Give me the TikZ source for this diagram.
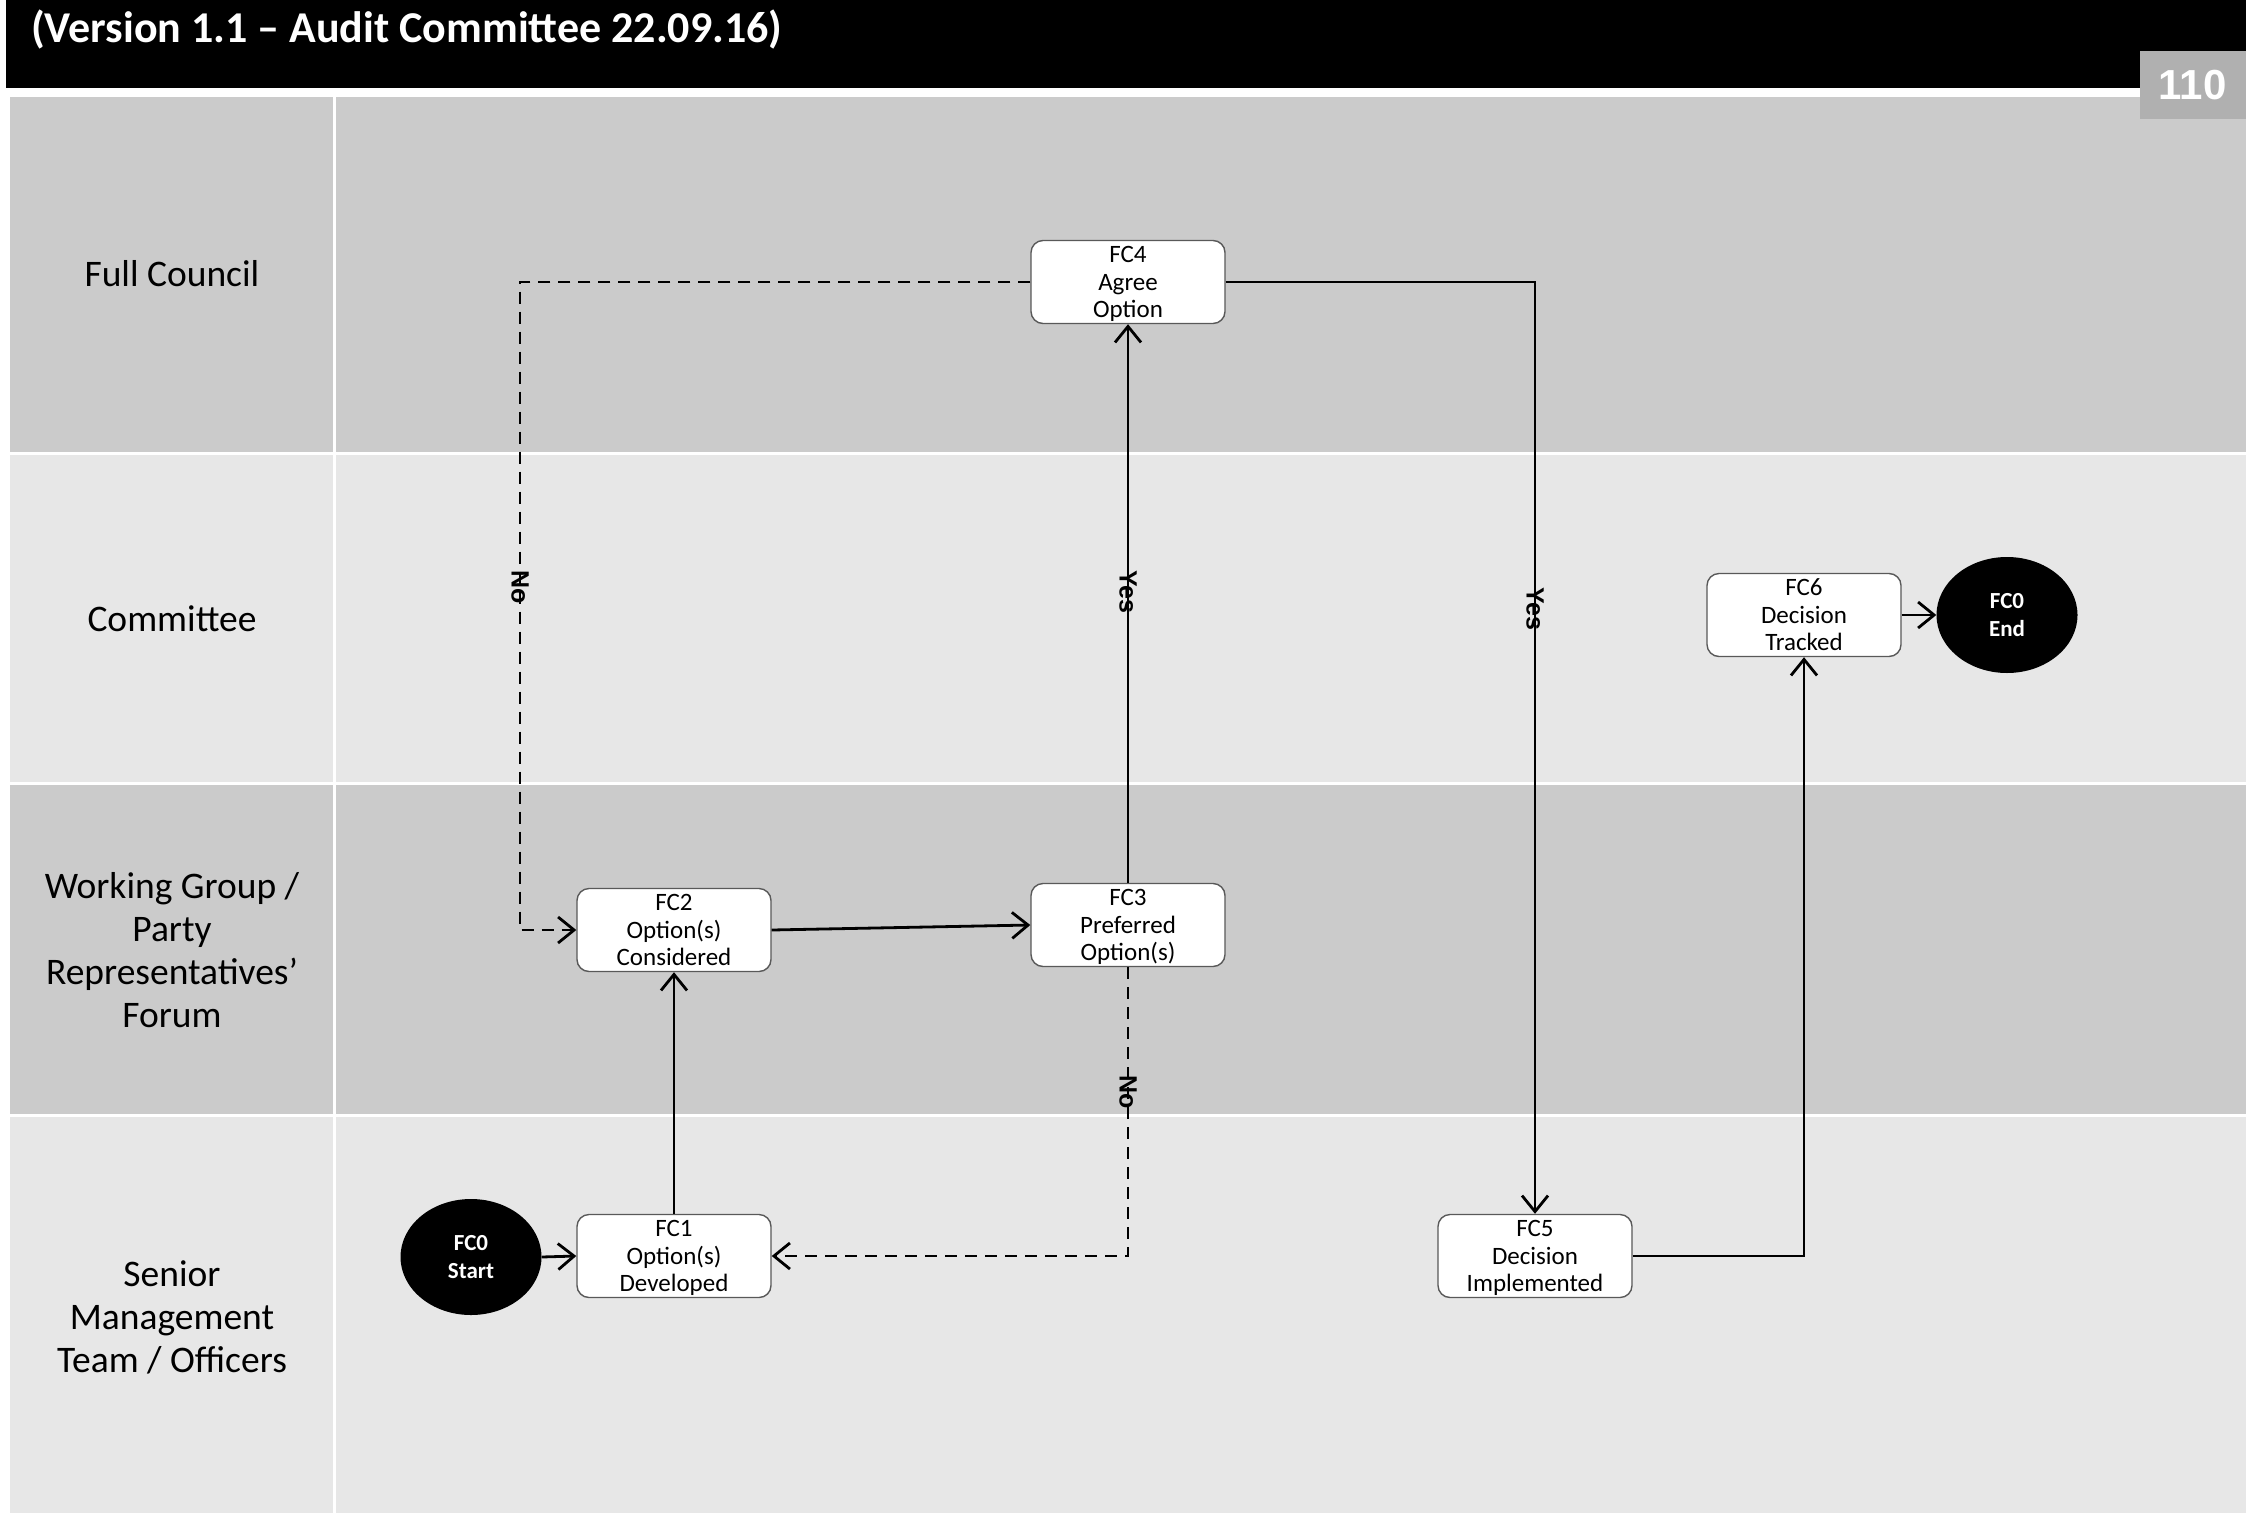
\documentclass[tikz,border=0pt]{standalone}
\usepackage{fontspec}
\setmainfont{Carlito}
\newfontfamily\arialf{Liberation Sans}
\usetikzlibrary{shapes.geometric,arrows.meta}
\definecolor{laneA}{HTML}{CBCBCB}
\definecolor{laneB}{HTML}{E7E7E7}
\definecolor{pagebox}{HTML}{B0B0B0}
\begin{document}
\begin{tikzpicture}[x=1pt,y=-1pt,
  procbox/.style={draw=black!65,line width=1.4pt,fill=white,rounded corners=12pt,minimum width=194pt,minimum height=83pt,inner sep=0pt,align=center,text depth=0pt,font=\fontsize{25}{27.5}\selectfont},
  termnode/.style={ellipse,fill=black,minimum width=141pt,minimum height=116pt,inner sep=0pt,align=center,text=white,font=\fontsize{23}{28}\selectfont\bfseries},
  flow/.style={line width=2.8pt,-{Straight Barb[length=16pt,width=26pt,line width=2.8pt]}},
  noflow/.style={flow,dash pattern=on 12pt off 8pt},
  lanelabel/.style={align=center,font=\fontsize{37.5}{43}\selectfont},
  edgelabel/.style={rotate=-90,font=\arialf\bfseries\fontsize{25}{28}\selectfont,inner sep=0pt}
]
\useasboundingbox (0,0) rectangle (2246,1518);
\fill[white] (0,0) rectangle (2246,1518);
\fill[black] (6,0) rectangle (2246,88);
% lanes
\fill[laneA] (10,97) rectangle (333,452);
\fill[laneA] (336,97) rectangle (2246,452);
\fill[laneB] (10,455) rectangle (333,782);
\fill[laneB] (336,455) rectangle (2246,782);
\fill[laneA] (10,785) rectangle (333,1114);
\fill[laneA] (336,785) rectangle (2246,1114);
\fill[laneB] (10,1117) rectangle (333,1513);
\fill[laneB] (336,1117) rectangle (2246,1513);
% header
\node[anchor=west,text=white,font=\fontsize{44}{48}\selectfont\bfseries,inner sep=0pt] (title) at (31,30) {(Version 1.1 – Audit Committee 22.09.16)};
\node[fill=pagebox,text=white,minimum width=106pt,minimum height=68pt,inner sep=0pt,anchor=north east,font=\arialf\bfseries\fontsize{42}{44}\selectfont] (pgnum) at (2246,51) {110};
% lane labels
\node[lanelabel] (lfc) at (172,274) {Full Council};
\node[lanelabel] (lcom) at (172,619) {Committee};
\node[lanelabel] (lwg) at (172,950) {Working Group /\\Party\\Representatives’\\Forum};
\node[lanelabel] (lsmt) at (172,1317) {Senior\\Management\\Team / Officers};
% nodes
\node[procbox] (fc4) at (1128,282) {FC4\\Agree\\Option};
\node[procbox] (fc3) at (1128,925) {FC3\\Preferred\\Option(s)};
\node[procbox] (fc2) at (674,930) {FC2\\Option(s)\\Considered};
\node[procbox] (fc1) at (674,1256) {FC1\\Option(s)\\Developed};
\node[procbox] (fc5) at (1535,1256) {FC5\\Decision\\Implemented};
\node[procbox] (fc6) at (1804,615) {FC6\\Decision\\Tracked};
\node[termnode] (start) at (471,1257) {FC0\\Start};
\node[termnode] (end) at (2007,615) {FC0\\End};
% bend coordinates
\coordinate (nobendA) at (520,587);
\coordinate (nobendB) at (1128,1092);
% connectors
\draw[noflow] (fc4.west) -| (nobendA) |- (fc2.west);
\draw[flow] (fc3.north) -- (fc4.south);
\draw[flow] (fc4.east) -| (fc5.north);
\draw[flow] (fc2.east) -- (fc3.west);
\draw[noflow] (fc3.south) |- (fc1.east);
\draw[flow] (fc1.north) -- (fc2.south);
\draw[flow] (start.east) -- (fc1.west);
\draw[flow] (fc5.east) -| (fc6.south);
\draw[flow] (fc6.east) -- (end.west);
% labels
\node[edgelabel] (lblno1) at (nobendA) {No};
\node[edgelabel] (lblyes1) at (1128,592) {Yes};
\node[edgelabel] (lblyes2) at (1535,609) {Yes};
\node[edgelabel] (lblno2) at (nobendB) {No};
\end{tikzpicture}
\end{document}
